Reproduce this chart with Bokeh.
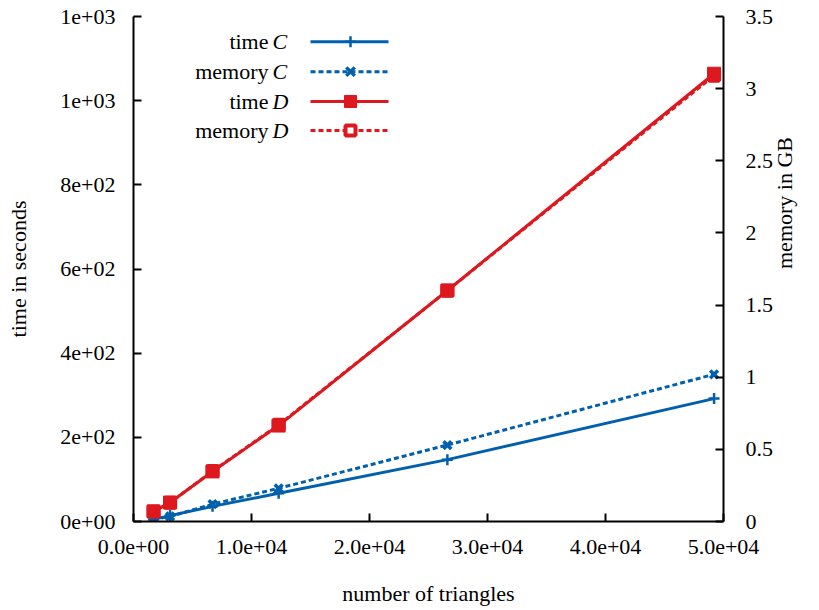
import math
from bokeh.plotting import figure
from bokeh.models import Range1d, LinearAxis, FixedTicker
from bokeh.core.properties import value
from bokeh.embed import file_html
from bokeh.resources import INLINE

# ---------------- data ----------------
triangles = [1700, 3100, 6700, 12300, 26600, 49200]
time_C = [5, 14, 36, 67, 147, 292]
memory_C = [0.014, 0.035, 0.12, 0.23, 0.53, 1.02]
time_D = [24, 45, 119, 228, 549, 1064]
memory_D = [0.069, 0.13, 0.35, 0.67, 1.60, 3.09]

x_ticks = [0, 10000, 20000, 30000, 40000, 50000]
x_tick_labels = ["0.0e+00", "1.0e+04", "2.0e+04", "3.0e+04", "4.0e+04", "5.0e+04"]
y_ticks = [0, 200, 400, 600, 800, 1000, 1200]
y_tick_labels = ["0e+00", "2e+02", "4e+02", "6e+02", "8e+02", "1e+03", "1e+03"]
mem_ticks = [0, 0.5, 1, 1.5, 2, 2.5, 3, 3.5]
mem_tick_labels = ["0", "0.5", "1", "1.5", "2", "2.5", "3", "3.5"]

x_title = "number of triangles"
y_title = "time in seconds"
y2_title = "memory in GB"

legend_names = ["time", "memory", "time", "memory"]
legend_vars = ["C", "C", "D", "D"]

BLUE = "#0060ad"
RED = "#dd181f"
FONT = "Liberation Serif"
FS = "22px"

p = figure(width=819, height=610, output_backend="svg", toolbar_location=None,
           x_range=Range1d(0, 50000), y_range=Range1d(0, 1200),
           min_border_left=133, min_border_right=96, min_border_top=16,
           min_border_bottom=89)
p.extra_y_ranges = {"mem": Range1d(0, 3.5)}
p.outline_line_color = None
p.grid.visible = False
p.background_fill_color = "white"
p.border_fill_color = "white"

right_axis = LinearAxis(y_range_name="mem")
p.add_layout(right_axis, "right")

p.xaxis.ticker = FixedTicker(ticks=x_ticks)
p.xaxis.major_label_overrides = dict(zip(x_ticks, x_tick_labels))
p.yaxis[0].ticker = FixedTicker(ticks=y_ticks)
p.yaxis[0].major_label_overrides = dict(zip(y_ticks, y_tick_labels))
right_axis.ticker = FixedTicker(ticks=mem_ticks)
right_axis.major_label_overrides = dict(zip(mem_ticks, mem_tick_labels))

p.xaxis.axis_label = x_title
p.yaxis[0].axis_label = y_title
right_axis.axis_label = y2_title
right_axis.axis_label_orientation = math.pi / 2

for ax in [p.xaxis[0], p.yaxis[0], right_axis]:
    ax.axis_line_width = 2
    ax.axis_line_color = "black"
    ax.major_tick_line_width = 2
    ax.major_tick_line_color = "black"
    ax.major_tick_in = 8
    ax.major_tick_out = 0
    ax.minor_tick_line_color = None
    ax.major_label_text_font = FONT
    ax.major_label_text_font_size = FS
    ax.major_label_text_color = "black"
    ax.axis_label_text_font = FONT
    ax.axis_label_text_font_size = FS
    ax.axis_label_text_font_style = "normal"
    ax.axis_label_text_color = "black"

p.xaxis.major_label_standoff = 18
p.xaxis.axis_label_standoff = 24
p.yaxis[0].major_label_standoff = 18
p.yaxis[0].axis_label_standoff = 26
right_axis.major_label_standoff = 22
right_axis.axis_label_standoff = 8

# ---------------- series ----------------
p.line(triangles, time_C, color=BLUE, line_width=3)
p.scatter(triangles, time_C, marker="cross", size=11, line_color=BLUE, line_width=2.5)

p.line(triangles, memory_C, y_range_name="mem", color=BLUE, line_width=3, line_dash="5 3")
p.scatter(triangles, memory_C, y_range_name="mem", marker="x", size=11,
          line_color=BLUE, line_width=3.5)

p.line(triangles, time_D, color=RED, line_width=3)
p.scatter(triangles, time_D, marker="square", size=13, fill_color=RED, line_color=RED)

p.line(triangles, memory_D, y_range_name="mem", color=RED, line_width=3, line_dash="5 3")
p.scatter(triangles, memory_D, y_range_name="mem", marker="square", size=10,
          fill_color=None, line_color=RED, line_width=4)

# ---------------- legend (manual, for italic variable names) ----------------
lx0, lx1, lxm = 15000, 21610, 18390
lrows = [1140, 1069, 998, 929]
txt_right = 11440
var_left = 11780
styles = [
    dict(color=BLUE, dash="solid", marker="cross", size=11, fill=BLUE, lw=2.5),
    dict(color=BLUE, dash="5 3", marker="x", size=12, fill=BLUE, lw=3.5),
    dict(color=RED, dash="solid", marker="square", size=12, fill=RED, lw=1),
    dict(color=RED, dash="5 3", marker="square", size=10, fill="white", lw=4),
]
for yy, st, nm, vr in zip(lrows, styles, legend_names, legend_vars):
    p.line([lx0, lx1], [yy, yy], color=st["color"], line_width=3, line_dash=st["dash"])
    p.scatter([lxm], [yy], marker=st["marker"], size=st["size"], fill_color=st["fill"],
              line_color=st["color"], line_width=st["lw"])
    p.text([txt_right], [yy], text=[nm], text_font=value(FONT), text_font_size=FS,
           text_align="right", text_baseline="middle", text_color="black")
    p.text([var_left], [yy], text=[vr], text_font=value(FONT), text_font_size=FS,
           text_font_style="italic", text_align="left", text_baseline="middle",
           text_color="black")

open("out.html", "w").write(file_html(p, INLINE))
